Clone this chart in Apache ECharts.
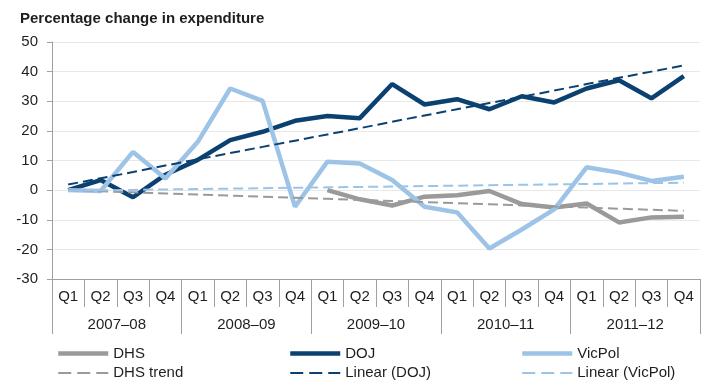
<!DOCTYPE html>
<html><head><meta charset="utf-8">
<script src="https://cdn.jsdelivr.net/npm/echarts@6/dist/echarts.min.js"></script>
<style>html,body{margin:0;padding:0;background:#fff}#c{width:727px;height:388px}</style>
</head><body><div id="c"></div>
<script>
var quarters = ['Q1','Q2','Q3','Q4','Q1','Q2','Q3','Q4','Q1','Q2','Q3','Q4','Q1','Q2','Q3','Q4','Q1','Q2','Q3','Q4'];
var years = ['2007–08','2008–09','2009–10','2010–11','2011–12'];
var dhs = ['-','-','-','-','-','-','-','-',0,-3.1,-5.2,-2.2,-1.7,-0.3,-4.7,-5.9,-4.5,-10.9,-9.2,-9.0];
var doj = [0,3.4,-2.4,5.2,10.2,16.9,19.7,23.4,25.0,24.3,35.8,28.9,30.7,27.3,31.7,29.6,34.3,37.1,31.0,38.5];
var vicpol = [0,-0.3,12.9,3.9,16.3,34.3,30.1,-5.6,9.6,9.0,3.4,-5.6,-7.5,-19.7,-13.3,-6.5,7.7,5.9,3.1,4.5];
var dhsTrend = [0,-0.37,-0.74,-1.11,-1.47,-1.84,-2.21,-2.58,-2.95,-3.32,-3.68,-4.05,-4.42,-4.79,-5.16,-5.53,-5.89,-6.26,-6.63,-7.0];
var dojTrend = [1.9,4.0,6.1,8.3,10.4,12.5,14.6,16.7,18.8,20.9,23.1,25.2,27.3,29.4,31.5,33.6,35.8,37.9,40.0,42.1];
var vicTrend = [-0.2,-0.06,0.08,0.23,0.37,0.51,0.65,0.79,0.94,1.08,1.22,1.36,1.51,1.65,1.79,1.93,2.07,2.22,2.36,2.5];

var cDHS = '#9a9a9a', cDOJ = '#0b4170', cVic = '#9dc3e6';
var txt = {color:'#1e1e1e', fontFamily:'Liberation Sans, Arial, sans-serif', fontSize:15};
function line(name, data, color, width, type){
  return {name:name, type:'line', data:data, symbol:'none', showSymbol:false,
    lineStyle:{color:color, width:width, type:type||'solid'}, itemStyle:{color:color},
    emphasis:{disabled:true}, animation:false};
}
function legend(left, names){
  return {left:left, top:346, orient:'vertical', itemWidth:50, itemHeight:14, itemGap:4.5,
    data:[{name:names[0], lineStyle:{width:4.5}}, {name:names[1], lineStyle:{width:2, type:[13,6]}}],
    itemStyle:{opacity:0}, textStyle:txt, selectedMode:false, padding:0};
}
var chart = echarts.init(document.getElementById('c'));
chart.setOption({
  animation:false,
  title:{text:'Percentage change in expenditure', left:20, top:11, padding:0,
    textStyle:{fontFamily:'Liberation Sans, Arial, sans-serif', fontSize:15, fontWeight:'bold', color:'#1e1e1e'}},
  grid:{left:52, right:27, top:42, bottom:109, containLabel:false},
  legend:[legend(56,['DHS','DHS trend']), legend(288,['DOJ','Linear (DOJ)']), legend(520,['VicPol','Linear (VicPol)'])],
  xAxis:[
    {type:'category', data:quarters, position:'bottom', boundaryGap:true,
     axisLine:{onZero:false, lineStyle:{color:'#a0a0a0', width:1}},
     axisTick:{show:true, interval:0, length:28, lineStyle:{color:'#a0a0a0'}},
     axisLabel:Object.assign({interval:0, margin:10}, txt), splitLine:{show:false}},
    {type:'category', data:years, position:'bottom', boundaryGap:true,
     axisLine:{show:false, onZero:false},
     axisTick:{show:true, interval:0, length:55, lineStyle:{color:'#a0a0a0'}},
     axisLabel:Object.assign({interval:0, margin:38}, txt), splitLine:{show:false}}
  ],
  yAxis:{type:'value', min:-30, max:50, interval:10,
    axisLine:{show:true, lineStyle:{color:'#a0a0a0'}},
    axisTick:{show:true, length:5, lineStyle:{color:'#a0a0a0'}},
    axisLabel:Object.assign({margin:14}, txt),
    splitLine:{lineStyle:{color:'#e8e8e8'}}},
  series:[
    line('DHS', dhs, cDHS, 4.5),
    line('DOJ', doj, cDOJ, 4.5),
    line('VicPol', vicpol, cVic, 4.5),
    line('DHS trend', dhsTrend, cDHS, 2, [10,5]),
    line('Linear (DOJ)', dojTrend, cDOJ, 2, [10,5]),
    line('Linear (VicPol)', vicTrend, cVic, 2, [10,5])
  ]
});
</script></body></html>
